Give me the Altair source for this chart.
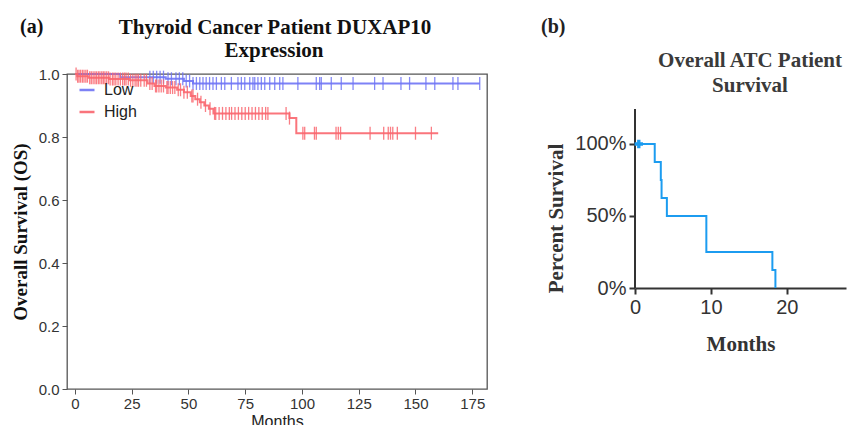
import altair as alt
import pandas as pd

SANS = "Liberation Sans"
SERIF = "Liberation Serif"

# ---------------- Panel (a): DUXAP10 expression groups ----------------
GROUPS = ["Low", "High"]
GROUP_COLORS = ["#6f74f5", "#f9666e"]

LOW_STEP_MONTHS = [0, 20, 40, 48, 52]
LOW_STEP_SURV = [1.0, 0.99, 0.985, 0.978, 0.97]
LOW_END_MONTH = 178.3
LOW_CENSOR = [33, 34.5, 36, 37.5, 39, 41, 42.5, 44.5, 46, 47.5, 49, 50.5, 52,
              53.5, 55, 56.4, 57.8, 59.3, 60.8, 62.3, 64.5, 66, 68.9, 71.8,
              73.3, 74.8, 77, 78.4, 79.2, 80.6, 82.1, 83.6, 85.8, 88, 90.2,
              91.6, 98.2, 106.3, 107.8, 108.5, 112.9, 117.3, 122.5, 132, 135.7,
              143.6, 147.4, 154.6, 158.5, 166.5, 168.7, 178.3]

HIGH_STEP_MONTHS = [0, 1, 6, 15, 24, 32, 35, 40, 45, 48, 51, 53, 55, 57, 59,
                    61, 94.5, 97.5]
HIGH_STEP_SURV = [1.0, 0.993, 0.988, 0.984, 0.98, 0.97, 0.962, 0.957, 0.95,
                  0.942, 0.93, 0.92, 0.91, 0.9, 0.89, 0.875, 0.86, 0.812]
HIGH_END_MONTH = 160
HIGH_CENSOR = [0.5, 1.2, 1.8, 2.5, 3.3, 4, 4.8, 5.5, 6.5, 7.2, 8, 8.8, 9.5,
               10.3, 11, 11.8, 12.5, 13.2, 14, 14.8, 15.5, 16.5, 17.2, 18, 19,
               20, 21, 21.8, 22.5, 23.5, 24.5, 25.5, 26.5, 27.3, 28, 29, 30.5,
               31.5, 33, 34, 35.5, 36, 37, 38, 39, 40.5, 41, 42, 43, 44, 45.5,
               46.5, 48, 49.5, 51.5, 52, 54, 55.5, 57.5, 59.5, 61.5, 62, 63.5,
               65, 66.5, 68, 69, 70.5, 72, 73.5, 75, 76.5, 78, 79.5, 81, 82.5,
               84, 85, 93, 94.5, 100.4, 101.2, 105.5, 106.3, 115, 116, 117,
               130, 136, 138, 139, 140, 142, 150, 157]

A_X_TICKS = [0, 25, 50, 75, 100, 125, 150, 175]
A_Y_TICKS = [0.0, 0.2, 0.4, 0.6, 0.8, 1.0]
A_TITLE = ["Thyroid Cancer Patient DUXAP10", "Expression"]

# ---------------- Panel (b): overall ATC survival ----------------
ATC_COLOR = "#1c9cf0"
ATC_STEP_MONTHS = [0, 2.6, 3.4, 3.5, 4.2, 9.4, 18.1, 18.5]
ATC_STEP_SURV = [1.0, 0.875, 0.75, 0.625, 0.5, 0.25, 0.125, 0.0]
ATC_CENSOR = [0.5]
B_X_TICKS = [0, 10, 20]
B_Y_TICKS = [0.0, 0.5, 1.0]
B_AXIS_TOP = 1.243
B_TITLE = ["Overall ATC Patient", "Survival"]

PANEL_LABELS = ["(a)", "(b)"]


def surv_at(months, survs, t):
    s = survs[0]
    for m, v in zip(months, survs):
        if m <= t:
            s = v
    return s


def curve_df(name, months, survs, end):
    rows = [{"group": name, "month": m, "surv": s} for m, s in zip(months, survs)]
    rows.append({"group": name, "month": end, "surv": survs[-1]})
    return pd.DataFrame(rows)


def censor_df(name, months, survs, times):
    return pd.DataFrame([{"group": name, "month": t, "surv": surv_at(months, survs, t)} for t in times])


low_curve = curve_df("Low", LOW_STEP_MONTHS, LOW_STEP_SURV, LOW_END_MONTH)
high_curve = curve_df("High", HIGH_STEP_MONTHS, HIGH_STEP_SURV, HIGH_END_MONTH)
low_cens = censor_df("Low", LOW_STEP_MONTHS, LOW_STEP_SURV, LOW_CENSOR)
high_cens = censor_df("High", HIGH_STEP_MONTHS, HIGH_STEP_SURV, HIGH_CENSOR)

curve_b = pd.DataFrame({"month": ATC_STEP_MONTHS, "surv": ATC_STEP_SURV})
censor_b = pd.DataFrame({"month": ATC_CENSOR,
                         "surv": [surv_at(ATC_STEP_MONTHS, ATC_STEP_SURV, t) for t in ATC_CENSOR]})

color_scale = alt.Scale(domain=GROUPS, range=GROUP_COLORS)

x_a = alt.X(
    "month:Q",
    scale=alt.Scale(domain=[-3.5, 181.5], nice=False, zero=False),
    axis=alt.Axis(values=A_X_TICKS, title="Months", grid=False, domain=False,
                  tickSize=5, tickColor="#555", labelFont=SANS, labelFontSize=15,
                  labelColor="#333", labelPadding=2, labelFlush=False,
                  titleFont=SANS, titleFontSize=16, titleFontWeight="normal",
                  titleColor="#222", titlePadding=2),
)
y_a = alt.Y(
    "surv:Q",
    scale=alt.Scale(domain=[0, 1], nice=False, zero=False),
    axis=alt.Axis(values=A_Y_TICKS, format=".1f", title="Overall Survival (OS)",
                  grid=False, domain=False, tickSize=5, tickColor="#555",
                  labelFont=SANS, labelFontSize=15, labelColor="#333", labelPadding=3,
                  titleFont=SERIF, titleFontSize=19, titleFontWeight="bold",
                  titleColor="#111", titlePadding=8),
)
color_legend = alt.Color(
    "group:N", scale=color_scale, sort=GROUPS,
    legend=alt.Legend(title=None, orient="none", legendX=11, legendY=7,
                      symbolType="stroke", symbolSize=225, symbolStrokeWidth=2.5,
                      labelFont=SANS, labelFontSize=16, labelColor="#222",
                      rowPadding=5, labelOffset=8, padding=0),
)
color_plain = alt.Color("group:N", scale=color_scale, legend=None)


def km_line(df, color):
    return alt.Chart(df).mark_line(interpolate="step-after", strokeWidth=2, opacity=0.9).encode(
        x=x_a, y=y_a, color=color)


def km_ticks(df):
    return alt.Chart(df).mark_tick(orient="vertical", size=13, thickness=1.3, opacity=0.85).encode(
        x=x_a, y=y_a, color=color_plain)


def text_layer(text, x, y, size, color, align="left"):
    return alt.Chart(pd.DataFrame({"label": [text]})).mark_text(
        font=SERIF, fontSize=size, fontWeight="bold", align=align, baseline="alphabetic",
        color=color,
    ).encode(x=alt.value(x), y=alt.value(y), text="label:N")


panel_a = alt.layer(
    km_line(low_curve, color_legend), km_ticks(low_cens),
    km_line(high_curve, color_plain), km_ticks(high_cens),
    text_layer(PANEL_LABELS[0], -47, -41, 20, "#111"),
    text_layer(A_TITLE[0], 208, -40, 21, "#111", "center"),
    text_layer(A_TITLE[1], 207, -17, 21, "#111", "center"),
).properties(
    width=420, height=315,
    view=alt.ViewBackground(stroke="#555", strokeWidth=1.3),
)

x_b = alt.X(
    "month:Q",
    scale=alt.Scale(domain=[0, 27.8], nice=False, zero=False),
    axis=alt.Axis(values=B_X_TICKS, title="Months", grid=False, domain=True,
                  domainColor="#333", domainWidth=2, tickSize=6, tickWidth=2,
                  tickColor="#333", labelFont=SANS, labelFontSize=20, labelColor="#333",
                  labelPadding=3, labelFlush=False, titleFont=SERIF, titleFontSize=21,
                  titleFontWeight="bold", titleColor="#333", titlePadding=16),
)
y_b = alt.Y(
    "surv:Q",
    scale=alt.Scale(domain=[0, 1.486], nice=False, zero=False),
    axis=alt.Axis(values=B_Y_TICKS, format=".0%", title="Percent Survival", grid=False,
                  domain=False, tickSize=6, tickWidth=2, tickColor="#333",
                  labelFont=SANS, labelFontSize=20, labelColor="#333", labelPadding=3,
                  labelFlush=False, titleFont=SERIF, titleFontSize=21,
                  titleFontWeight="bold", titleColor="#333", titleX=-79, titleY=144,
                  titleAlign="center", titleBaseline="middle"),
)

axisline_b = alt.Chart(pd.DataFrame({"k": [0]})).mark_rule(color="#333", strokeWidth=2).encode(
    x=alt.value(0), y=alt.datum(0), y2=alt.datum(B_AXIS_TOP)
)
line_b = alt.Chart(curve_b).mark_line(interpolate="step-after", strokeWidth=2, color=ATC_COLOR).encode(
    x=x_b, y=y_b
)
cens_b = alt.Chart(censor_b).mark_point(shape="cross", filled=True, size=70, color=ATC_COLOR, opacity=1).encode(
    x=x_b, y=y_b
)

panel_b = alt.layer(
    axisline_b, line_b, cens_b,
    text_layer(PANEL_LABELS[1], -94, -41, 20, "#222"),
    text_layer(B_TITLE[0], 115, -7, 21, "#3a3a3a", "center"),
    text_layer(B_TITLE[1], 115, 18, 21, "#3a3a3a", "center"),
).properties(width=211, height=214)

chart = alt.hconcat(panel_a, panel_b, spacing=148, bounds="flush").properties(
    padding={"left": 10, "top": 16, "right": 0, "bottom": 0},
    background="white",
).configure_view(stroke="transparent")

chart.save("out.html", embed_options={"renderer": "svg", "actions": False})
